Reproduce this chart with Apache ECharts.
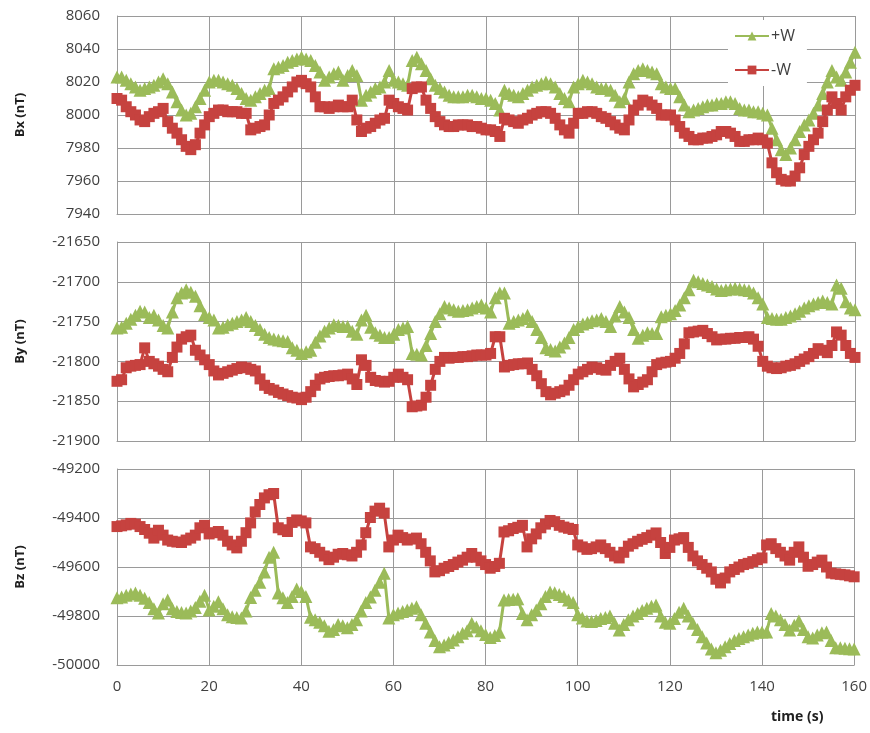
<!DOCTYPE html>
<html>
<head>
<meta charset="utf-8">
<title>Bx By Bz</title>
<script src="https://cdn.jsdelivr.net/npm/echarts@6/dist/echarts.min.js"></script>
<style>
    html, body { margin: 0; padding: 0; background: #fff; }
    #chart { width: 870px; height: 733px; }
</style>
</head>
<body>
<div id="chart"></div>
<script>
/* ===================== data ===================== */
// time (s), one sample per second
var timeStart = 0;
var timeEnd = 160;

var bxPlus = [
    8023, 8023, 8021, 8019, 8017, 8015, 8016, 8017, 8018, 8020,
    8022, 8019, 8014, 8008, 8003, 8000, 8001, 8005, 8010, 8015,
    8020, 8021, 8021, 8020, 8019, 8018, 8016, 8013, 8010, 8009,
    8011, 8013, 8015, 8016, 8028, 8029, 8030, 8032, 8033, 8034,
    8035, 8034, 8033, 8030, 8026, 8021, 8023, 8025, 8026, 8021,
    8024, 8027, 8024, 8009, 8012, 8014, 8016, 8017, 8020, 8027,
    8021, 8020, 8019, 8018, 8033, 8035, 8031, 8027, 8022, 8018,
    8016, 8014, 8012, 8011, 8011, 8011, 8012, 8012, 8011, 8010,
    8010, 8009, 8007, 8003, 8015, 8013, 8012, 8011, 8013, 8015,
    8017, 8018, 8019, 8020, 8019, 8017, 8013, 8010, 8008, 8017,
    8019, 8021, 8020, 8019, 8017, 8016, 8016, 8015, 8012, 8008,
    8010, 8020, 8025, 8027, 8028, 8027, 8026, 8025, 8019, 8017,
    8016, 8016, 8011, 8006, 8002, 8003, 8004, 8005, 8006, 8006,
    8007, 8007, 8008, 8008, 8007, 8004, 8003, 8003, 8002, 8002,
    8001, 8000, 7992, 7985, 7979, 7976, 7980, 7985, 7990, 7994,
    7997, 8001, 8006, 8013, 8020, 8027, 8023, 8021, 8026, 8032,
    8038
];
var bxMinus = [
    8010, 8009, 8005, 8002, 8000, 7997, 7996, 7999, 8001, 8002,
    8004, 7996, 7992, 7989, 7985, 7981, 7979, 7982, 7989, 7994,
    7999, 8001, 8003, 8003, 8002, 8002, 8002, 8001, 8001, 7991,
    7992, 7993, 7994, 8000, 8007, 8009, 8011, 8014, 8017, 8020,
    8021, 8019, 8017, 8011, 8005, 8005, 8004, 8005, 8006, 8005,
    8005, 8009, 7997, 7990, 7992, 7993, 7995, 7997, 7998, 8009,
    8007, 8005, 8004, 8003, 8016, 8017, 8017, 8009, 8004, 7999,
    7996, 7994, 7993, 7993, 7994, 7994, 7994, 7993, 7993, 7992,
    7991, 7991, 7990, 7987, 7998, 7997, 7996, 7995, 7997, 7998,
    8000, 8001, 8002, 8002, 8001, 7998, 7994, 7991, 7989, 7995,
    8001, 8001, 8002, 8002, 8001, 7999, 7998, 7996, 7994, 7992,
    7991, 7997, 8003, 8006, 8009, 8008, 8006, 8004, 8000, 8000,
    8000, 7997, 7993, 7989, 7987, 7985, 7985, 7986, 7986, 7987,
    7988, 7990, 7990, 7989, 7987, 7984, 7984, 7985, 7985, 7986,
    7985, 7983, 7971, 7965, 7961, 7960, 7960, 7963, 7968, 7976,
    7981, 7985, 7989, 7996, 8003, 8011, 8007, 8003, 8011, 8015,
    8018
];
var byPlus = [
    -21758, -21757, -21752, -21747, -21742, -21737, -21738, -21745, -21742, -21748,
    -21755, -21758, -21738, -21720, -21714, -21710, -21713, -21718, -21730, -21741,
    -21745, -21748, -21758, -21757, -21754, -21752, -21750, -21748, -21745, -21750,
    -21755, -21760, -21766, -21770, -21772, -21773, -21774, -21775, -21783, -21786,
    -21790, -21788, -21786, -21776, -21768, -21762, -21758, -21754, -21755, -21756,
    -21756, -21762, -21766, -21748, -21742, -21757, -21764, -21767, -21770, -21770,
    -21766, -21760, -21758, -21756, -21790, -21791, -21792, -21780, -21765, -21750,
    -21740, -21731, -21733, -21735, -21737, -21736, -21735, -21733, -21731, -21729,
    -21733, -21738, -21720, -21714, -21714, -21752, -21750, -21748, -21746, -21742,
    -21750, -21760, -21770, -21783, -21785, -21787, -21782, -21777, -21770, -21760,
    -21756, -21753, -21751, -21749, -21748, -21746, -21750, -21756, -21743, -21731,
    -21738, -21745, -21760, -21771, -21767, -21764, -21765, -21765, -21744, -21742,
    -21740, -21736, -21729, -21720, -21710, -21698, -21700, -21702, -21704, -21706,
    -21709, -21711, -21710, -21709, -21708, -21709, -21710, -21711, -21714, -21720,
    -21728, -21745, -21746, -21747, -21747, -21745, -21743, -21740, -21737, -21733,
    -21730, -21728, -21726, -21724, -21726, -21728, -21704, -21708, -21725, -21733,
    -21735
];
var byMinus = [
    -21825, -21823, -21808, -21806, -21805, -21804, -21783, -21800, -21803, -21806,
    -21810, -21813, -21795, -21782, -21772, -21769, -21767, -21786, -21792, -21798,
    -21804, -21812, -21817, -21815, -21813, -21811, -21809, -21807, -21808, -21810,
    -21812, -21822, -21830, -21834, -21836, -21839, -21841, -21843, -21845, -21846,
    -21848, -21845, -21838, -21830, -21822, -21820, -21819, -21818, -21818, -21817,
    -21816, -21822, -21829, -21798, -21805, -21820, -21824, -21825, -21826, -21825,
    -21820, -21816, -21820, -21823, -21857, -21856, -21855, -21845, -21830, -21810,
    -21800, -21795, -21796, -21795, -21795, -21794, -21794, -21793, -21792, -21792,
    -21792, -21790, -21769, -21769, -21807, -21805, -21804, -21803, -21803, -21802,
    -21810, -21818, -21828, -21838, -21842, -21840, -21838, -21836, -21830, -21823,
    -21816, -21813, -21810, -21807, -21808, -21810, -21811, -21805, -21800, -21796,
    -21810, -21822, -21832, -21829, -21826, -21823, -21813, -21804, -21802, -21801,
    -21800, -21796, -21790, -21778, -21764, -21763, -21762, -21761, -21765, -21769,
    -21773, -21772, -21772, -21771, -21771, -21770, -21770, -21769, -21772, -21781,
    -21800, -21806, -21808, -21809, -21808, -21806, -21805, -21803, -21800, -21797,
    -21794, -21790, -21784, -21786, -21789, -21780, -21763, -21767, -21780, -21790,
    -21795
];
var bzPlus = [
    -49725, -49722, -49715, -49710, -49706, -49715, -49728, -49745, -49770, -49788,
    -49750, -49735, -49770, -49782, -49786, -49788, -49780, -49765, -49740, -49715,
    -49775, -49760, -49742, -49770, -49795, -49803, -49806, -49808, -49780, -49724,
    -49695, -49662, -49620, -49560, -49540, -49706, -49725, -49745, -49720, -49690,
    -49700, -49720, -49805, -49815, -49825, -49840, -49862, -49855, -49835, -49840,
    -49848, -49835, -49815, -49780, -49745, -49722, -49695, -49662, -49625, -49808,
    -49795, -49788, -49782, -49776, -49768, -49762, -49795, -49830, -49865, -49900,
    -49925, -49918, -49908, -49898, -49885, -49870, -49860, -49830, -49845, -49860,
    -49875, -49888, -49880, -49866, -49735, -49733, -49732, -49730, -49790, -49815,
    -49795, -49775, -49750, -49720, -49702, -49705, -49712, -49720, -49735, -49745,
    -49795, -49808, -49820, -49822, -49818, -49810, -49806, -49800, -49830, -49857,
    -49835, -49815, -49800, -49790, -49778, -49768, -49760, -49755, -49800, -49825,
    -49830, -49810, -49785, -49768, -49800, -49830, -49855, -49885, -49910, -49935,
    -49950, -49940, -49925, -49912, -49900, -49892, -49885, -49878, -49870, -49865,
    -49865, -49865, -49790, -49800, -49815, -49835, -49857, -49838, -49820, -49855,
    -49885, -49890, -49878, -49868, -49865, -49900, -49930, -49930, -49932, -49934,
    -49935
];
var bzMinus = [
    -49435, -49432, -49428, -49422, -49425, -49435, -49447, -49462, -49482, -49450,
    -49470, -49490, -49495, -49498, -49500, -49490, -49482, -49470, -49440, -49430,
    -49465, -49460, -49455, -49470, -49495, -49510, -49522, -49495, -49460, -49420,
    -49375, -49345, -49318, -49305, -49300, -49440, -49448, -49455, -49418, -49408,
    -49412, -49420, -49518, -49525, -49540, -49555, -49570, -49560, -49548, -49545,
    -49550, -49555, -49540, -49510, -49460, -49398, -49372, -49360, -49380, -49518,
    -49490, -49470, -49480, -49490, -49486, -49482, -49505, -49540, -49575, -49620,
    -49615, -49605, -49598, -49590, -49580, -49572, -49560, -49545, -49560, -49575,
    -49590, -49605, -49598, -49585, -49457, -49452, -49443, -49438, -49430, -49518,
    -49485, -49465, -49440, -49425, -49410, -49415, -49430, -49437, -49442, -49447,
    -49510, -49518, -49528, -49525, -49518, -49510, -49525, -49540, -49555, -49563,
    -49540, -49515, -49505, -49495, -49487, -49480, -49470, -49461, -49500, -49545,
    -49520, -49490, -49485, -49480, -49520, -49555, -49575, -49590, -49605, -49620,
    -49650, -49665, -49645, -49620, -49610, -49600, -49590, -49585, -49578, -49570,
    -49563, -49510, -49505, -49525, -49540, -49555, -49572, -49540, -49518, -49560,
    -49597, -49590, -49580, -49572, -49600, -49625, -49628, -49630, -49632, -49636,
    -49640
];

// 轴范围
var xTicks = { min: 0, max: 160, interval: 20 };
var yRanges = [
    { name: 'Bx (nT)', min: 7940, max: 8060, interval: 20 },
    { name: 'By (nT)', min: -21900, max: -21650, interval: 50 },
    { name: 'Bz (nT)', min: -50000, max: -49200, interval: 200 }
];
/* ===================== end ===================== */


/* ===================== chart ===================== */
var FONT = 'Open Sans';
var GREEN = '#9bbb59';
var RED = '#c6423f';
var GRID_LINE = '#9a9a9a';

function pairs(values) {
    var out = [];
    for (var i = 0; i < values.length; i++) {
        out.push([timeStart + i, values[i]]);
    }
    return out;
}

// 不要千位分隔符
function plain(v) {
    return String(v);
}

var grids = [
    { left: 117, top: 16, width: 738, height: 198 },
    { left: 117, top: 242, width: 738, height: 199 },
    { left: 117, top: 469, width: 738, height: 196 }
];

var xAxes = grids.map(function (g, i) {
    return {
        type: 'value',
        gridIndex: i,
        min: xTicks.min,
        max: xTicks.max,
        interval: xTicks.interval,
        axisLine: { show: true, lineStyle: { color: GRID_LINE, width: 1 } },
        axisTick: { show: false },
        axisLabel: {
            show: i === 2,
            formatter: plain,
            color: '#404040',
            fontFamily: FONT,
            fontSize: 15,
            margin: 14
        },
        splitLine: { show: true, lineStyle: { color: GRID_LINE, width: 1 } }
    };
});

var yAxes = yRanges.map(function (r, i) {
    return {
        type: 'value',
        gridIndex: i,
        min: r.min,
        max: r.max,
        interval: r.interval,
        name: r.name,
        nameLocation: 'middle',
        nameGap: 90,
        nameRotate: 90,
        nameTextStyle: {
            color: '#202020',
            fontFamily: FONT,
            fontWeight: 'bold',
            fontSize: 13
        },
        axisLine: { show: true, lineStyle: { color: GRID_LINE, width: 1 } },
        axisTick: { show: false },
        axisLabel: {
            formatter: plain,
            color: '#404040',
            fontFamily: FONT,
            fontSize: 15,
            margin: 17
        },
        splitLine: { show: true, lineStyle: { color: GRID_LINE, width: 1 } }
    };
});

function lineSeries(name, idx, values, color, symbol, size) {
    return {
        name: name,
        type: 'line',
        xAxisIndex: idx,
        yAxisIndex: idx,
        data: pairs(values),
        symbol: symbol,
        symbolSize: size,
        showSymbol: true,
        showAllSymbol: true,
        itemStyle: { color: color },
        lineStyle: { color: color, width: 3 },
        emphasis: { disabled: true }
    };
}

var option = {
    animation: false,
    backgroundColor: '#fff',
    grid: grids,
    xAxis: xAxes,
    yAxis: yAxes,
    legend: {
        data: ['+W', '-W'],
        orient: 'vertical',
        left: 728,
        top: 20,
        padding: [8, 12, 8, 6],
        itemGap: 18,
        itemWidth: 34,
        itemHeight: 11,
        backgroundColor: '#fff',
        textStyle: { color: '#404040', fontFamily: FONT, fontSize: 16, padding: [0, 0, 0, -3] }
    },
    graphic: [{
        type: 'text',
        left: 771,
        top: 710,
        style: {
            text: 'time (s)',
            fill: '#202020',
            font: 'bold 14px "Open Sans"'
        }
    }],
    series: [
        lineSeries('+W', 0, bxPlus, GREEN, 'triangle', 13),
        lineSeries('-W', 0, bxMinus, RED, 'rect', 11),
        lineSeries('+W', 1, byPlus, GREEN, 'triangle', 13),
        lineSeries('-W', 1, byMinus, RED, 'rect', 11),
        lineSeries('+W', 2, bzPlus, GREEN, 'triangle', 13),
        lineSeries('-W', 2, bzMinus, RED, 'rect', 11)
    ]
};

var chart = echarts.init(document.getElementById('chart'), null, { renderer: 'canvas' });
chart.setOption(option);
/* ===================== end ===================== */
</script>
</body>
</html>
